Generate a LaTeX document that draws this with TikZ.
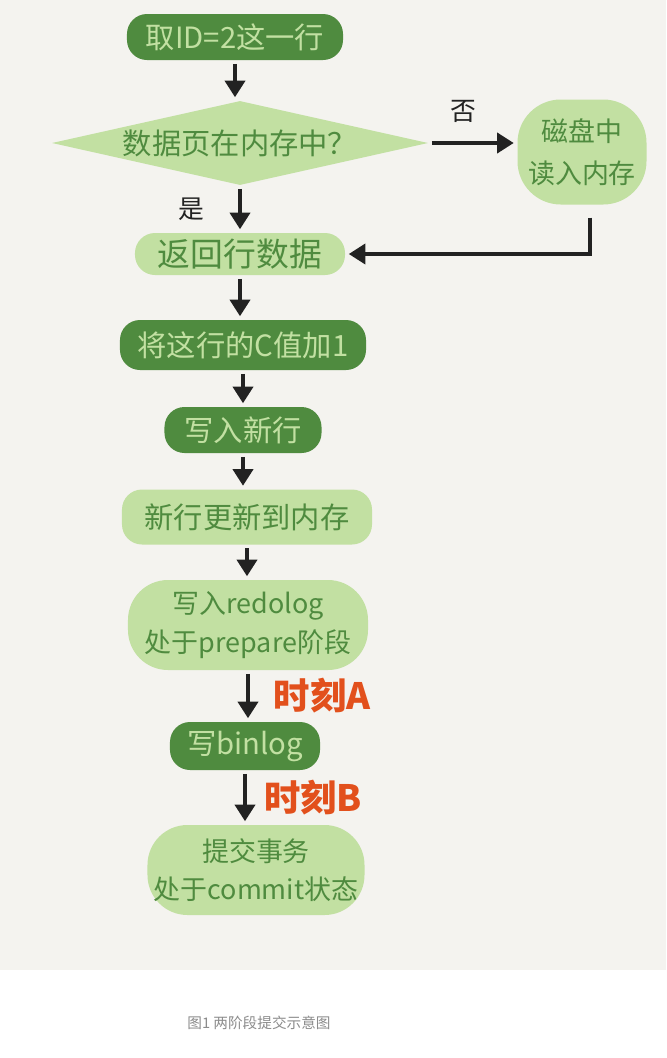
\documentclass[tikz,border=0pt]{standalone}
\usepackage{fontspec}
\setmainfont{Noto Sans CJK SC}
\usetikzlibrary{arrows.meta,shapes.geometric}
\definecolor{paper}{HTML}{F4F3EF}
\definecolor{leaf}{HTML}{4F8B3F}
\definecolor{leaflight}{HTML}{C2E0A2}
\definecolor{ink}{HTML}{222222}
\definecolor{momentred}{HTML}{E2501C}
\definecolor{captiongray}{HTML}{8C8C8C}
\tikzset{
  darkbox/.style={rectangle, rounded corners=0.6cm, fill=leaf, text=leaflight,
    font=\fontsize{25}{32}\selectfont, inner sep=0pt, align=center},
  lightbox/.style={rectangle, rounded corners=0.6cm, fill=leaflight, text=leaf,
    font=\fontsize{25}{32}\selectfont, inner sep=0pt, align=center},
  twoline/.style={font=\fontsize{23}{33}\selectfont, rounded corners=1.2cm},
  flow/.style={line width=3.4pt, draw=ink, -{Triangle[width=0.6cm,length=0.5cm]},
    shorten <=3pt, shorten >=3pt},
  yesno/.style={font=\fontsize{22}{24}\selectfont, text=ink},
  moment/.style={font=\bfseries\fontsize{31}{34}\selectfont, text=momentred},
}
\begin{document}
\begin{tikzpicture}[x=0.03cm, y=-0.03cm]
      \useasboundingbox (0,0) rectangle (666,1058);
      \fill[white] (0,0) rectangle (666,1058);
      \fill[paper] (0,0) rectangle (666,970);
      \draw
        (235,37) node[darkbox, minimum width=6.48cm, minimum height=1.38cm] (fetch){取ID=2这一行}
        (240,143) node[diamond, fill=leaflight, text=leaf, font=\fontsize{25}{32}\selectfont,
          inner sep=0pt, aspect=4.5, minimum width=11.28cm, minimum height=2.52cm] (inmem){数据页在内存中？}
        (582,152) node[lightbox, twoline, font=\fontsize{23}{36}\selectfont, rounded corners=1.3cm,
          minimum width=3.87cm, minimum height=3.15cm] (disk){磁盘中\\读入内存}
        (240,254) node[lightbox, font=\fontsize{28}{32}\selectfont, minimum width=6.3cm, minimum height=1.26cm] (ret){返回行数据}
        (243,345) node[darkbox, minimum width=7.38cm, minimum height=1.5cm] (add){将这行的C值加1}
        (243,430) node[darkbox, minimum width=4.71cm, minimum height=1.38cm] (newrow){写入新行}
        (247,517) node[lightbox, minimum width=7.5cm, minimum height=1.65cm] (mem){新行更新到内存}
        (248,625) node[lightbox, twoline, minimum width=7.2cm, minimum height=2.7cm] (redo){写入redolog\\处于prepare阶段}
        (245,746) node[darkbox, minimum width=4.5cm, minimum height=1.44cm] (bin){写binlog}
        (256,870) node[lightbox, twoline, minimum width=6.51cm, minimum height=2.7cm] (commit){提交事务\\处于commit状态}
        (259,1023) node[text=captiongray, font=\fontsize{12.5}{14}\selectfont] (cap){图1 两阶段提交示意图};
      \begin{scope}[flow]
        \draw (fetch.south) to (fetch.south |- inmem.north);
        \draw (inmem.east) to node[yesno, pos=0.4, above=0.45cm] (no){否}
          (inmem.east -| disk.west);
        \draw (inmem.south) to node[yesno, midway, left=0.9cm] (yes){是}
          (inmem.south |- ret.north);
        \draw[shorten <=0.39cm] ([xshift=0.24cm]disk.south) |- (ret.east);
        \draw (ret.south) to (ret.south |- add.north);
        \draw (add.south) to (add.south |- newrow.north);
        \draw (newrow.south) to (newrow.south |- mem.north);
        \draw (mem.south) to (mem.south |- redo.north);
        \draw (redo.south) to node[moment, midway, right=0.6cm] (ta){时刻A}
          (redo.south |- bin.north);
        \draw (bin.south) to node[moment, midway, right=0.4cm] (tb){时刻B}
          (bin.south |- commit.north);
      \end{scope}
    \end{tikzpicture}
\end{document}
